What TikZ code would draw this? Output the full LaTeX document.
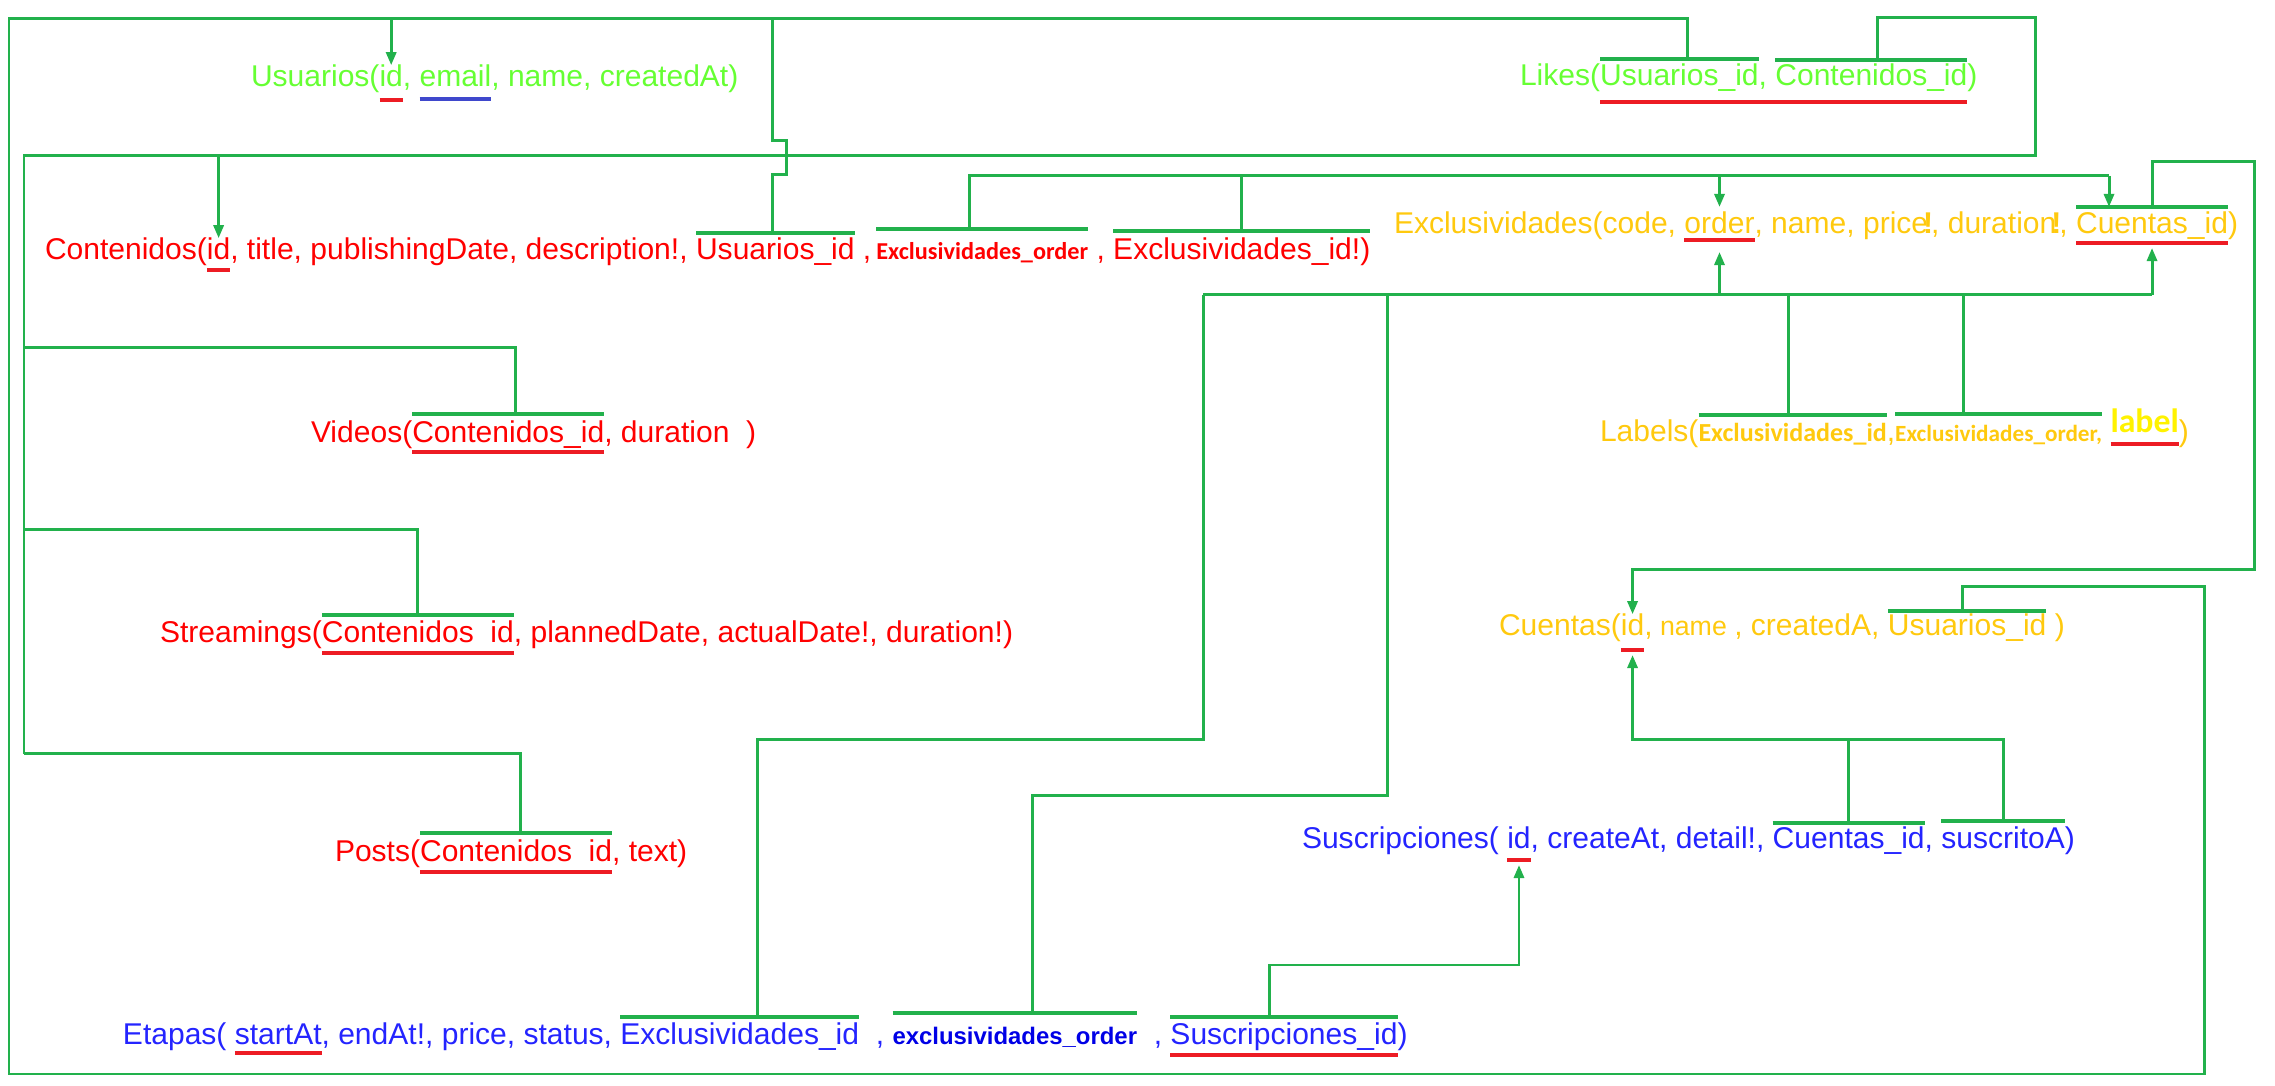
\documentclass[tikz,border=0pt]{standalone}
\usepackage{fontspec}
\setmainfont{Liberation Sans}
\newfontfamily\calib{Carlito}
\usetikzlibrary{arrows.meta}

\definecolor{lgreen}{RGB}{34,177,76}
\definecolor{ured}{RGB}{237,28,36}
\definecolor{ublue}{RGB}{63,72,204}
\definecolor{tRed}{RGB}{255,0,0}
\definecolor{tLime}{RGB}{102,255,51}
\definecolor{tGold}{RGB}{255,201,14}
\definecolor{tYel}{RGB}{255,242,0}
\definecolor{tBlue}{RGB}{36,36,255}
\definecolor{tNavy}{RGB}{0,0,230}

\newcommand{\fkbar}[3][0]{%
  \draw[bar] ([yshift=#2cm]#3.base west) -- ([yshift=#2cm]#3.base east);
  \coordinate (#3-t) at ([xshift=#1cm,yshift=#2cm]#3.base);}
\newcommand{\pkline}[3][ul]{%
  \draw[#1] ([yshift=-#2cm]#3.base west) -- ([yshift=-#2cm]#3.base east);}
\newcommand{\xbang}{\kern-0.05cm\textbf{!}\kern-0.02cm}
\newcommand{\gsp}{\ \null}

\begin{document}
\begin{tikzpicture}[x=0.01cm, y=-0.01cm,
  frag/.style={inner sep=0pt, outer sep=0pt, anchor=base west, font=\fontsize{8.54pt}{10pt}\selectfont},
  follow/.style={at=(#1.base east)},
  cal/.style={font=\calib\bfseries\fontsize{#1}{#1}\selectfont},
  link/.style={draw=lgreen, line width=0.85pt},
  fk/.style={link, -{Triangle[length=0.13cm, width=0.1cm]}},
  bar/.style={draw=lgreen, line width=1.2pt},
  ul/.style={draw=ured, line width=1.3pt}]

  \useasboundingbox (0,0) rectangle (2275,1086);

  \begin{scope}[text=tLime]
    \node[frag] (uT) at (251,87) {Usuarios(};
    \node[frag, follow=uT] (uId) {id};
    \node[frag, follow=uId] (uS) {,\gsp};
    \node[frag, follow=uS] (uMail) {email};
    \node[frag, follow=uMail] (uE) {, name, createdAt)};

    \node[frag] (lkT) at (1520,86) {Likes(};
    \node[frag, follow=lkT] (lkUsu) {Usuarios\_id};
    \node[frag, follow=lkUsu] (lkS) {,\gsp};
    \node[frag, follow=lkS] (lkCon) {Contenidos\_id};
    \node[frag, follow=lkCon] (lkE) {)};
  \end{scope}

  \begin{scope}[text=tRed]
    \node[frag] (cT) at (45,260) {Contenidos(};
    \node[frag, follow=cT] (cId) {id};
    \node[frag, follow=cId] (cMid) {, title, publishingDate, description!,\gsp};
    \node[frag, follow=cMid] (cUsu) {Usuarios\_id};
    \node[frag, follow=cUsu] (cS1) {\ ,\,};
    \node[frag, cal=6.9pt, follow=cS1] (cOrd) {Exclusividades\_order};
    \node[frag, follow=cOrd] (cS2) {\ ,\gsp};
    \node[frag, follow=cS2] (cExc) {Exclusividades\_id!)};

    \node[frag] (vT) at (311,443) {Videos(};
    \node[frag, follow=vT] (vCon) {Contenidos\_id};
    \node[frag, follow=vCon] (vE) {, duration\ \ )};

    \node[frag] (sT) at (160,643) {Streamings(};
    \node[frag, follow=sT] (sCon) {Contenidos\phantom{\_}id};
    \node[frag, follow=sCon] (sE) {, plannedDate, actualDate!, duration!)};

    \node[frag] (pT) at (335,862) {Posts(};
    \node[frag, follow=pT] (pCon) {Contenidos\phantom{\_}id};
    \node[frag, follow=pCon] (pE) {, text)};
  \end{scope}

  \begin{scope}[text=tGold]
    \node[frag] (eT) at (1394,234) {Exclusividades(code,\gsp};
    \node[frag, follow=eT] (eOrd) {order};
    \node[frag, follow=eOrd] (eMid) {, name, price\xbang, duration\xbang,\gsp};
    \node[frag, follow=eMid] (eCue) {Cuentas\_id};
    \node[frag, follow=eCue] (eE) {)};

    \node[frag] (laT) at (1600,442) {Labels(};
    \node[frag, cal=7.4pt, follow=laT] (laExc) {Exclusividades\_id};
    \node[frag, follow=laExc] (laS) {,};
    \node[frag, cal=6.6pt, follow=laS] (laOrd) {Exclusividades\_order,};
    \node[frag, follow=laOrd] (laS2) {\gsp};
    \node[frag, cal=9.6pt, text=tYel, follow=laS2] (laLab) {\raisebox{0.09cm}{label}};
    \node[frag, follow=laLab] (laE) {)};

    \node[frag] (cuT) at (1499,636) {Cuentas(};
    \node[frag, follow=cuT] (cuId) {id};
    \node[frag, follow=cuId] (cuMid) {,{\fontsize{7.6pt}{9pt}\selectfont\ name\ }, createdA,\gsp};
    \node[frag, follow=cuMid] (cuUsu) {Usuarios\_id};
    \node[frag, follow=cuUsu] (cuE) {\ )};
  \end{scope}

  \begin{scope}[text=tBlue]
    \node[frag] (suT) at (1302,849) {Suscripciones(\gsp};
    \node[frag, follow=suT] (suId) {id};
    \node[frag, follow=suId] (suMid) {, createAt, detail!,\gsp};
    \node[frag, follow=suMid] (suCue) {Cuentas\_id};
    \node[frag, follow=suCue] (suS) {,\gsp};
    \node[frag, follow=suS] (suScr) {suscritoA};
    \node[frag, follow=suScr] (suE) {)};

    \node[frag] (etT) at (123,1045) {Etapas(\gsp};
    \node[frag, follow=etT] (etStart) {startAt};
    \node[frag, follow=etStart] (etMid) {, endAt!, price, status,\gsp};
    \node[frag, follow=etMid] (etExc) {Exclusividades\_id};
    \node[frag, follow=etExc] (etS1) {\ \ ,\gsp};
    \node[frag, text=tNavy, font=\bfseries\fontsize{6.8pt}{8pt}\selectfont, follow=etS1] (etOrd) {exclusividades\_order};
    \node[frag, follow=etOrd] (etS2) {\ \ ,\gsp};
    \node[frag, follow=etS2] (etSus) {Suscripciones\_id};
    \node[frag, follow=etSus] (etE) {)};
  \end{scope}

  \pkline{0.13}{uId}
  \pkline[ul, draw=ublue]{0.12}{uMail}
  \draw[ul] ([yshift=-0.16cm]lkUsu.base west) -- ([yshift=-0.16cm]lkCon.base east);
  \pkline{0.10}{cId}
  \pkline{0.09}{vCon}
  \pkline{0.10}{sCon}
  \pkline{0.10}{pCon}
  \pkline{0.06}{eOrd}
  \pkline{0.09}{eCue}
  \pkline{0.02}{laLab}
  \pkline{0.14}{cuId}
  \pkline{0.11}{suId}
  \pkline{0.08}{etStart}
  \pkline{0.10}{etSus}

  \fkbar[0.08]{0.27}{lkUsu}
  \fkbar[0.06]{0.26}{lkCon}
  \fkbar[-0.03]{0.27}{cUsu}
  \fkbar[-0.13]{0.31}{cOrd}
  \fkbar{0.29}{cExc}
  \fkbar[0.07]{0.29}{vCon}
  \fkbar{0.28}{sCon}
  \fkbar[0.04]{0.29}{pCon}
  \fkbar{0.27}{eCue}
  \fkbar[-0.04]{0.27}{laExc}
  \fkbar[-0.35]{0.28}{laOrd}
  \fkbar[-0.05]{0.25}{cuUsu}
  \fkbar{0.26}{suCue}
  \fkbar{0.28}{suScr}
  \fkbar[0.18]{0.28}{etExc}
  \fkbar[0.18]{0.32}{etOrd}
  \fkbar[-0.14]{0.28}{etSus}

  \coordinate (yU) at (9,19);
  \coordinate (yUb) at (9,1074);
  \coordinate (yUr) at (2204,587);
  \coordinate (yC) at (2035,18);
  \coordinate (yCb) at (24,156);
  \coordinate (yCv) at (24,348);
  \coordinate (yCs) at (24,530);
  \coordinate (yCp) at (24,754);
  \coordinate (yE) at (0,176);
  \coordinate (yEr) at (2109,176);
  \coordinate (yK) at (2254,162);
  \coordinate (yKb) at (2254,570);
  \coordinate (yX) at (1203,295);
  \coordinate (yXa) at (1203,740);
  \coordinate (yXb) at (1387,796);
  \coordinate (yS) at (0,740);
  \coordinate (yT) at (0,965);

  \draw[link] (lkUsu-t) |- (yU) -- (yUb) -| (yUr) -| (cuUsu-t);
  \draw[fk] (uId.north |- yU) -- (uId.north);
  \draw[link] (cUsu-t) -- ++(0,-58) -- ++(14,0) -- ++(0,-34) -- ++(-14,0) -- (cUsu-t |- yU);

  \draw[link] (lkCon-t) |- (yC) |- (yCb) -- (yCp);
  \draw[fk] (cId.north |- yCb) -- (cId.north);
  \draw[link] (vCon-t) |- (yCv);
  \draw[link] (sCon-t) |- (yCs);
  \draw[link] (pCon-t) |- (yCp);

  \draw[link] (cOrd-t) |- (yEr);
  \draw[link] (cExc-t) -- (cExc-t |- yE);
  \draw[fk] (eOrd.north |- yE) -- (eOrd.north |- eCue-t);
  \draw[fk] (yEr) -- (yEr |- eCue-t);

  \draw[fk] (eCue-t) |- (yK) -- (yKb) -| (cuId.north);

  \draw[link] (yX) -- (eCue.base |- yX);
  \draw[fk] (eOrd.base |- yX) -- ([yshift=-0.18cm]eOrd.base);
  \draw[fk] (eCue.base |- yX) -- ([yshift=-0.14cm]eCue.base);
  \draw[link] (laExc-t) -- (laExc-t |- yX);
  \draw[link] (laOrd-t) -- (laOrd-t |- yX);
  \draw[link] (etExc-t) |- (yXa) -- (yX);
  \draw[link] (etOrd-t) |- (yXb) -- (yXb |- yX);

  \draw[fk] (suScr-t) |- (cuId.base |- yS) -- ([yshift=-0.19cm]cuId.base);
  \draw[link] (suCue-t) -- (suCue-t |- yS);

  \draw[fk] (etSus-t) |- (suId.base |- yT) -- ([yshift=-0.16cm]suId.base);
\end{tikzpicture}
\end{document}
